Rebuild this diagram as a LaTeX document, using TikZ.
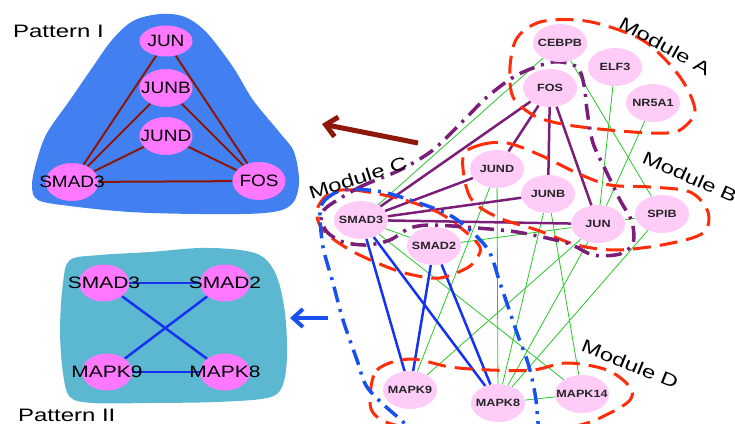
\documentclass[tikz,border=0pt]{standalone}
\usepackage{fontspec}
\setmainfont{Liberation Sans}
\newfontfamily\fbig[FakeStretch=1.33]{Liberation Sans}
\newfontfamily\fpone[FakeStretch=1.15]{Liberation Sans}
\newfontfamily\fptwo[FakeStretch=1.27]{Liberation Sans}
\newfontfamily\fnet[FakeStretch=1.2]{Liberation Sans}
\usetikzlibrary{shapes.geometric,arrows.meta}
\pgfdeclarelayer{blob}
\pgfdeclarelayer{edges}
\pgfdeclarelayer{loops}
\pgfsetlayers{blob,edges,loops,main}
\definecolor{blobblue}{RGB}{66,128,242}
\definecolor{blobteal}{RGB}{92,184,208}
\definecolor{patpink}{RGB}{255,120,255}
\definecolor{netpink}{RGB}{255,204,248}
\definecolor{edgered}{RGB}{140,22,8}
\definecolor{edgepurple}{RGB}{122,30,122}
\definecolor{edgegreen}{RGB}{40,200,40}
\definecolor{edgeblue}{RGB}{20,50,240}
\definecolor{modred}{RGB}{255,45,10}
\definecolor{modblue}{RGB}{25,80,240}
\definecolor{arrred}{RGB}{140,25,10}
\tikzset{
  netnode/.style={ellipse, fill=netpink, draw=none, minimum width=54pt, minimum height=38pt, inner sep=0pt, text=black!85, font=\fnet\bfseries\fontsize{10.5}{12}\selectfont},
  ponenode/.style={ellipse, fill=patpink, draw=none, minimum width=53pt, minimum height=38pt, inner sep=0pt, font=\fpone\fontsize{16.5}{18}\selectfont},
  ptwonode/.style={ellipse, fill=patpink, draw=none, minimum width=50pt, minimum height=37pt, inner sep=0pt, font=\fptwo\fontsize{16.5}{18}\selectfont},
  redge/.style={draw=edgered, line width=2pt},
  bedge/.style={draw=edgeblue, line width=2.5pt},
  pedge/.style={draw=edgepurple, line width=2.5pt},
  gedge/.style={draw=edgegreen, line width=0.8pt},
  modloop/.style={draw=modred, line width=3pt, dash pattern=on 18pt off 9pt},
  purloop/.style={draw=edgepurple, line width=3.5pt, dash pattern=on 16pt off 7pt on 3pt off 7pt},
  blueloop/.style={draw=modblue, line width=3.5pt, dash pattern=on 16pt off 7pt on 3pt off 7pt},
  bigtext/.style={font=\fbig\fontsize{18}{20}\selectfont, inner sep=0pt},
}
\newcommand{\zb}[1]{\makebox[0pt]{#1}}
\begin{document}
\begin{tikzpicture}[x=1pt,y=-1pt]
\useasboundingbox (0,0) rectangle (735,423);

% ---------- Pattern blobs ----------
\begin{pgfonlayer}{blob}
\fill[blobblue] plot[smooth cycle, tension=0.55] coordinates {(160,14) (185,17) (207,33) (233,67) (253,100) (280,133) (294,152) (299,183) (291,205) (265,213) (200,214) (130,212) (70,206) (38,200) (32,185) (37,160) (47,133) (70,100) (92,68) (112,40) (133,21)};
\fill[blobteal] plot[smooth cycle, tension=0.55] coordinates {(70,260) (100,255) (150,252) (200,248) (240,250) (263,257) (277,277) (285,313) (287,357) (282,387) (267,398) (217,402) (150,403) (93,403) (70,397) (63,373) (60,330) (63,283)};
\end{pgfonlayer}

\node[ponenode, minimum height=31pt] (pJUN) at (166,41) {\zb{JUN}};
\node[ponenode] (pJUNB) at (166,88) {\zb{JUNB}};
\node[ponenode] (pJUND) at (166,136) {\zb{JUND}};
\node[ponenode] (pSMAD3) at (72,182) {\zb{SMAD3}};
\node[ponenode] (pFOS) at (259,181) {\zb{FOS}};

\node[bigtext, anchor=base west] (tP1) at (13,37) {Pattern I};

% ---------- Pattern II ----------
\node[ptwonode] (qSMAD3) at (104,283) {\zb{SMAD3}};
\node[ptwonode] (qSMAD2) at (225,283) {\zb{SMAD2}};
\node[ptwonode] (qMAPK9) at (107,372) {\zb{MAPK9}};
\node[ptwonode] (qMAPK8) at (225,372) {\zb{MAPK8}};

\node[bigtext, anchor=base west] (tP2) at (18,421) {Pattern II};

% ---------- Network nodes ----------
\node[netnode] (CEBPB) at (560,43) {\zb{CEBPB}};
\node[netnode] (ELF3) at (615,67) {\zb{ELF3}};
\node[netnode] (NR5A1) at (653,103) {\zb{NR5A1}};
\node[netnode] (FOS) at (550,88) {\zb{FOS}};
\node[netnode] (JUND) at (497,169) {\zb{JUND}};
\node[netnode] (JUNB) at (548,194) {\zb{JUNB}};
\node[netnode] (JUN) at (598,224) {\zb{JUN}};
\node[netnode] (SPIB) at (662,214) {\zb{SPIB}};
\node[netnode] (SMAD3) at (361,220) {\zb{SMAD3}};
\node[netnode] (SMAD2) at (434,246) {\zb{SMAD2}};
\node[netnode] (MAPK9) at (410,390) {\zb{MAPK9}};
\node[netnode] (MAPK8) at (498,403) {\zb{MAPK8}};
\node[netnode] (MAPK14) at (582,394) {\zb{MAPK14}};

% module labels
\node[bigtext, rotate=-29] (tMA) at (665,46) {Module A};
\node[bigtext, rotate=-24] (tMB) at (690,177) {Module B};
\node[bigtext, rotate=18] (tMC) at (358,178) {Module C};
\node[bigtext, rotate=-22] (tMD) at (630,364) {Module D};

% ---------- edges ----------
\begin{pgfonlayer}{edges}
\draw[redge] (pSMAD3) -- (pJUN);
\draw[redge] (pSMAD3) -- (pJUNB);
\draw[redge] (pSMAD3) -- (pJUND);
\draw[redge] (pSMAD3) -- (pFOS);
\draw[redge] (pFOS) -- (pJUN);
\draw[redge] (pFOS) -- (pJUNB);
\draw[redge] (pFOS) -- (pJUND);

\draw[bedge] (qSMAD3) -- (qSMAD2);
\draw[bedge] (qMAPK9) -- (qMAPK8);
\draw[bedge] (qSMAD3) -- (qMAPK8);
\draw[bedge] (qSMAD2) -- (qMAPK9);

\draw[gedge] (CEBPB) -- (SMAD3);
\draw[gedge] (CEBPB) -- (SPIB);
\draw[gedge] (ELF3) -- (JUN);
\draw[gedge] (NR5A1) -- (JUN);
\draw[gedge] (SMAD3) -- (SMAD2);
\draw[gedge] (SMAD3) -- (MAPK14);
\draw[gedge] (SMAD2) -- (JUN);
\draw[gedge] (JUN) -- (SPIB);
\draw[gedge] (JUND) -- (MAPK9);
\draw[gedge] (JUND) -- (MAPK8);
\draw[gedge] (JUNB) -- (MAPK8);
\draw[gedge] (JUNB) -- (MAPK14);
\draw[gedge] (JUN) -- (MAPK9);
\draw[gedge] (JUN) -- (MAPK8);
\draw[gedge] (SPIB) -- (MAPK8);
\draw[gedge] (MAPK8) -- (MAPK14);

\draw[pedge] (SMAD3) -- (FOS);
\draw[pedge] (SMAD3) -- (JUND);
\draw[pedge] (SMAD3) -- (JUNB);
\draw[pedge] (SMAD3) -- (JUN);
\draw[pedge] (FOS) -- (JUND);
\draw[pedge] (FOS) -- (JUNB);
\draw[pedge] (FOS) -- (JUN);

\draw[bedge] (SMAD3) -- (MAPK9);
\draw[bedge] (SMAD3) -- (MAPK8);
\draw[bedge] (SMAD2) -- (MAPK9);
\draw[bedge] (SMAD2) -- (MAPK8);
\end{pgfonlayer}

% ---------- module loops ----------
\begin{pgfonlayer}{loops}
\draw[modloop] plot[smooth cycle, tension=0.55] coordinates {(577,20) (610,27) (647,43) (680,77) (695,110) (683,128) (667,133) (633,132) (590,128) (557,123) (533,115) (513,97) (510,67) (517,38) (540,22)};
\draw[modloop] plot[smooth cycle, tension=0.55] coordinates {(463,157) (480,145) (507,143) (540,155) (577,173) (610,185) (650,187) (690,192) (708,212) (703,233) (667,244) (617,250) (577,245) (537,230) (497,217) (470,197)};
\draw[modloop] plot[smooth cycle, tension=0.55] coordinates {(330,193) (353,190) (393,197) (420,205) (443,215) (467,233) (480,247) (477,258) (467,268) (440,278) (413,275) (387,267) (350,250) (323,230) (317,210)};
\draw[modloop] plot[smooth cycle, tension=0.55] coordinates {(370,400) (377,370) (410,359) (450,367) (490,370) (533,370) (567,363) (607,370) (630,387) (630,400) (610,413) (580,425) (520,435) (450,435) (395,425) (375,415)};
\draw[purloop] plot[smooth cycle, tension=0.5] coordinates {(327,207) (360,187) (400,170) (433,150) (467,117) (487,97) (517,75) (553,62) (577,67) (584,85) (587,110) (593,143) (607,173) (620,200) (632,222) (633,243) (620,254) (593,255) (567,243) (517,232) (477,228) (433,225) (410,228) (390,240) (367,245) (343,242) (327,232) (321,218)};
\draw[blueloop] plot[smooth cycle, tension=0.5] coordinates {(320,213) (325,200) (343,190) (377,191) (410,200) (453,217) (487,248) (500,283) (517,333) (527,360) (533,383) (537,410) (535,435) (500,450) (430,440) (393,413) (367,387) (357,360) (343,320) (333,283) (323,247)};
\end{pgfonlayer}

% ---------- arrows ----------
\coordinate (aR1) at (418,143);
\coordinate (aR2) at (322,124);
\draw[draw=arrred, line width=5pt, -{Straight Barb[length=11pt,width=20pt]}] (aR1) -- (aR2);
\coordinate (aB1) at (328,318);
\coordinate (aB2) at (290,318);
\draw[draw=modblue, line width=4pt, -{Straight Barb[length=10pt,width=18pt]}] (aB1) -- (aB2);
\end{tikzpicture}
\end{document}
